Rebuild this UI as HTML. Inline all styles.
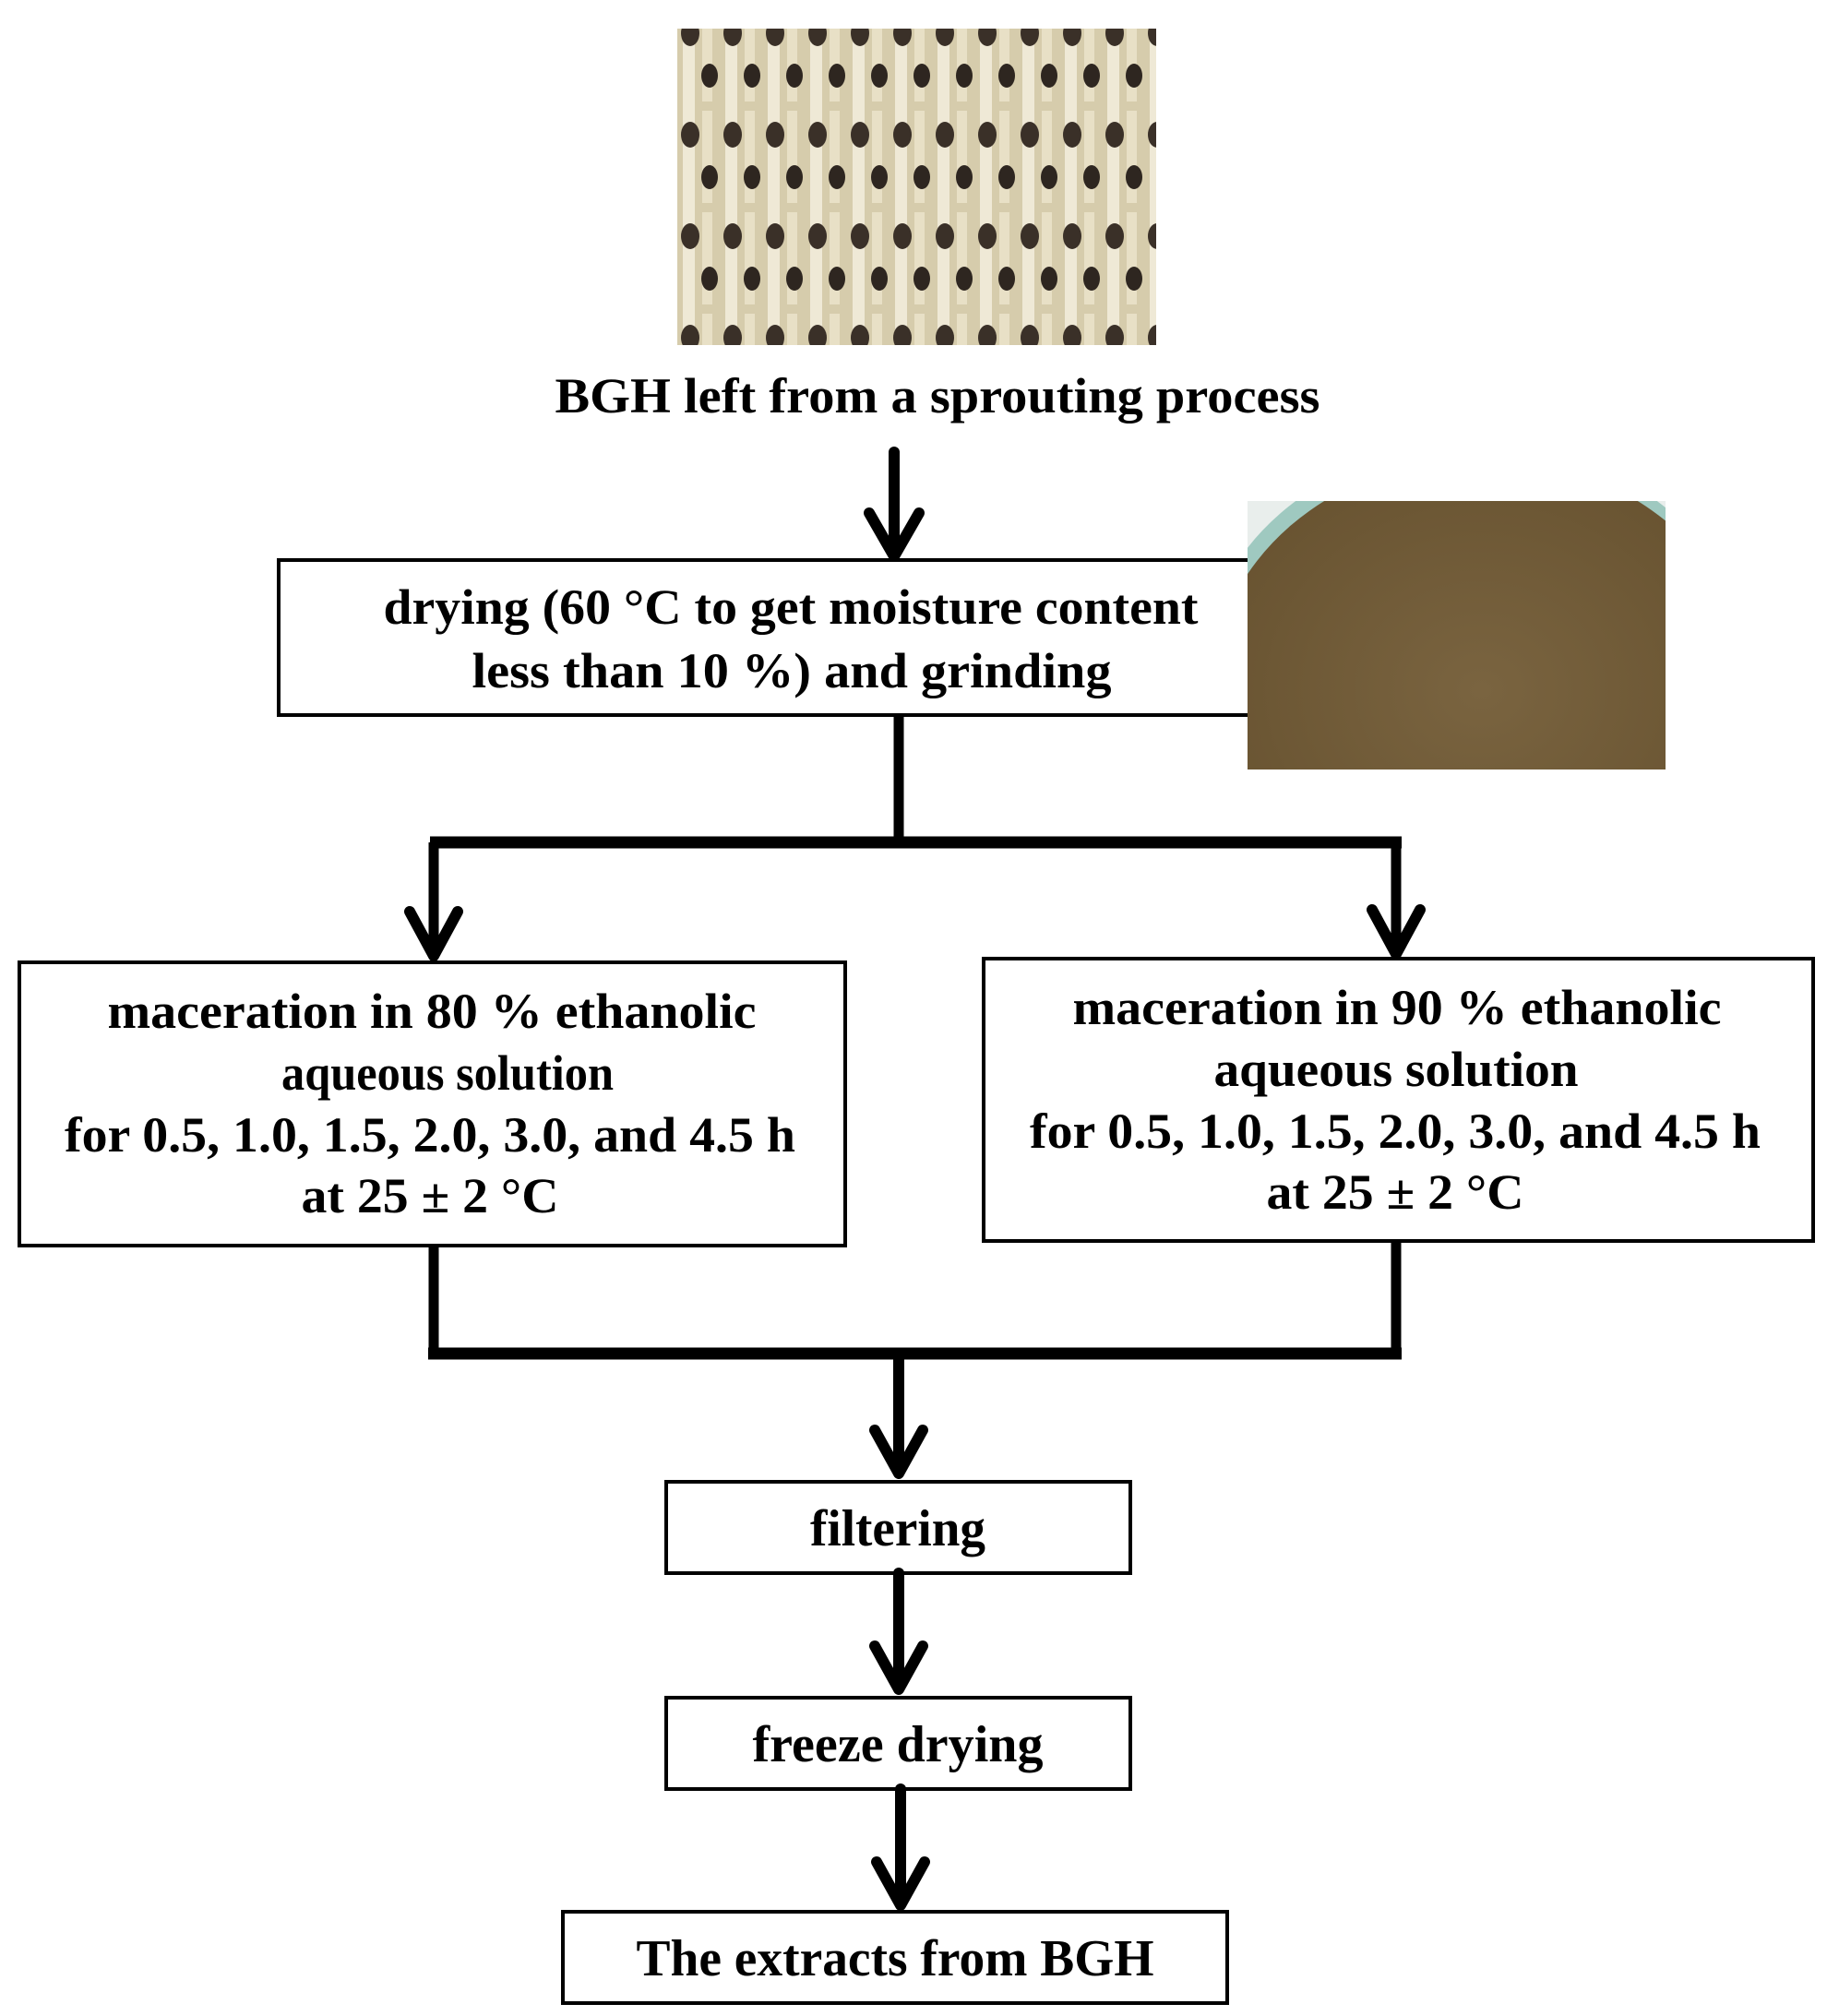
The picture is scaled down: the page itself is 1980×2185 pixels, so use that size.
<!DOCTYPE html>
<html><head><meta charset="utf-8"><style>
html,body{margin:0;padding:0;background:#fff}
svg{display:block}
text{font-family:"Liberation Serif",serif;font-weight:bold;fill:#000}
</style></head><body>
<svg width="1980" height="2185" viewBox="0 0 1980 2185" xmlns="http://www.w3.org/2000/svg">
<defs>
<pattern id="sp" width="46" height="110" patternUnits="userSpaceOnUse">
<rect width="46" height="110" fill="#d6ccac"/>
<rect x="4" y="0" width="13" height="110" fill="#efe9d6"/>
<rect x="25" y="10" width="11" height="100" fill="#e8e0c6"/>
<ellipse cx="12" cy="36" rx="10" ry="14" fill="#3a3028"/>
<ellipse cx="33" cy="82" rx="9" ry="13" fill="#2e2620"/>
</pattern>
<radialGradient id="pw" cx="50%" cy="50%" r="60%">
<stop offset="0" stop-color="#7a6440"/><stop offset="1" stop-color="#66512f"/>
</radialGradient>
<clipPath id="pc"><rect x="1352" y="543" width="453" height="291"/></clipPath>
</defs>
<rect x="734" y="31" width="519" height="343" fill="url(#sp)"/>

<text x="1016" y="447" font-size="54" text-anchor="middle" textLength="829" lengthAdjust="spacingAndGlyphs">BGH left from a sprouting process</text>

<g stroke="#000" fill="none" stroke-linecap="round" stroke-linejoin="round">
<line x1="969" y1="490" x2="969" y2="600" stroke-width="12"/>
<polyline points="942,556 969,603 996,556" stroke-width="12"/>
</g>
<rect x="302" y="607" width="1065" height="168" fill="none" stroke="#000" stroke-width="4"/>
<text x="857" y="676" font-size="54" text-anchor="middle" textLength="883" lengthAdjust="spacingAndGlyphs">drying (60 °C to get moisture content</text>
<text x="858" y="745" font-size="54" text-anchor="middle" textLength="693" lengthAdjust="spacingAndGlyphs">less than 10 %) and grinding</text>

<g clip-path="url(#pc)">
<rect x="1352" y="543" width="453" height="291" fill="#e9eeec"/>
<ellipse cx="1600" cy="740" rx="300" ry="260" fill="#9fc9c0"/>
<ellipse cx="1605" cy="748" rx="292" ry="252" fill="url(#pw)"/>
</g>

<g stroke="#000" fill="none" stroke-width="11">
<line x1="974" y1="776" x2="974" y2="913"/>
<line x1="466" y1="913" x2="1519" y2="913" stroke-width="13"/>
<line x1="470" y1="913" x2="470" y2="1036"/>
<line x1="1513" y1="913" x2="1513" y2="1034"/>
</g>
<g stroke="#000" fill="none" stroke-width="12" stroke-linecap="round" stroke-linejoin="round">
<polyline points="444,988 470,1036 496,988"/>
<polyline points="1487,986 1513,1034 1539,986"/>
</g>

<rect x="21" y="1043" width="895" height="307" fill="none" stroke="#000" stroke-width="4"/>
<rect x="1066" y="1039" width="899" height="306" fill="none" stroke="#000" stroke-width="4"/>
<g font-size="54" text-anchor="middle">
<text x="468" y="1114" textLength="703" lengthAdjust="spacingAndGlyphs">maceration in 80 % ethanolic</text>
<text x="485" y="1181" textLength="360" lengthAdjust="spacingAndGlyphs">aqueous solution</text>
<text x="466" y="1248" textLength="792" lengthAdjust="spacingAndGlyphs">for 0.5, 1.0, 1.5, 2.0, 3.0, and 4.5 h</text>
<text x="466" y="1314" textLength="279" lengthAdjust="spacingAndGlyphs">at 25 ± 2 °C</text>
<text x="1514" y="1110" textLength="703" lengthAdjust="spacingAndGlyphs">maceration in 90 % ethanolic</text>
<text x="1513" y="1177" textLength="395" lengthAdjust="spacingAndGlyphs">aqueous solution</text>
<text x="1512" y="1244" textLength="792" lengthAdjust="spacingAndGlyphs">for 0.5, 1.0, 1.5, 2.0, 3.0, and 4.5 h</text>
<text x="1512" y="1310" textLength="279" lengthAdjust="spacingAndGlyphs">at 25 ± 2 °C</text>
</g>

<g stroke="#000" fill="none" stroke-width="11">
<line x1="470" y1="1350" x2="470" y2="1467"/>
<line x1="1513" y1="1345" x2="1513" y2="1467"/>
<line x1="464" y1="1467" x2="1519" y2="1467" stroke-width="13"/>
</g>
<g stroke="#000" fill="none" stroke-width="12" stroke-linecap="round" stroke-linejoin="round">
<line x1="974" y1="1467" x2="974" y2="1595"/>
<polyline points="948,1550 974,1597 1000,1550"/>
<line x1="974" y1="1705" x2="974" y2="1829"/>
<polyline points="948,1784 974,1831 1000,1784"/>
<line x1="976" y1="1939" x2="976" y2="2063"/>
<polyline points="950,2018 976,2065 1002,2018"/>
</g>

<rect x="722" y="1606" width="503" height="99" fill="none" stroke="#000" stroke-width="4"/>
<rect x="722" y="1840" width="503" height="99" fill="none" stroke="#000" stroke-width="4"/>
<rect x="610" y="2072" width="720" height="99" fill="none" stroke="#000" stroke-width="4"/>
<g font-size="56" text-anchor="middle">
<text x="973" y="1675" textLength="190" lengthAdjust="spacingAndGlyphs">filtering</text>
<text x="973" y="1909" textLength="315" lengthAdjust="spacingAndGlyphs">freeze drying</text>
<text x="970" y="2141" textLength="561" lengthAdjust="spacingAndGlyphs">The extracts from BGH</text>
</g>
</svg>
</body></html>
